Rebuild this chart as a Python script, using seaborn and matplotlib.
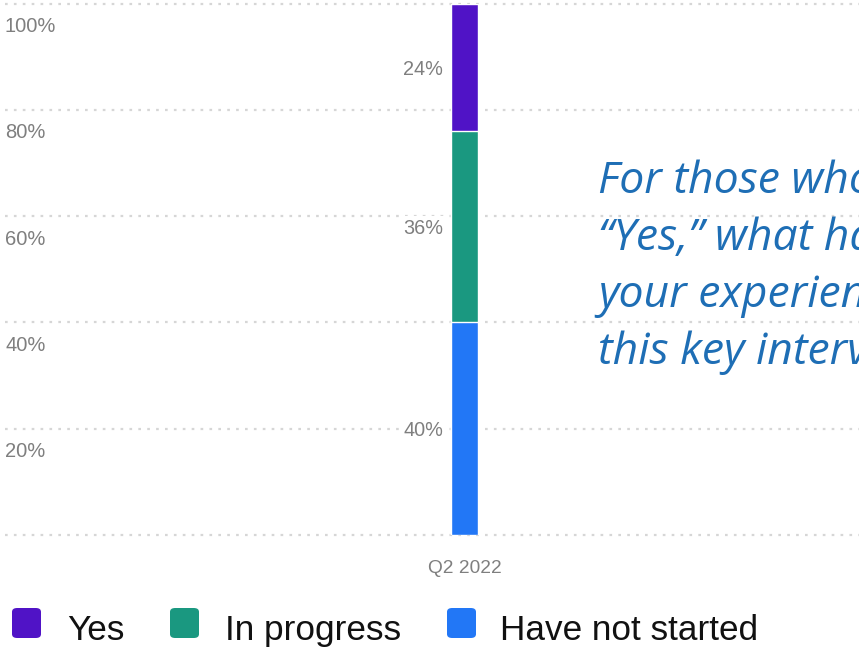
import matplotlib
matplotlib.use("Agg")
import matplotlib.pyplot as plt
from matplotlib.patches import FancyBboxPatch
from matplotlib.transforms import offset_copy
import seaborn as sns

# Survey responses for the quarter (percent of respondents)
period = ["Q2 2022"]
categories = ["Yes", "In progress", "Have not started"]
shares = [24, 36, 40]  # stacked top to bottom
colors = ["#5013C6", "#1A9880", "#2277F6"]
y_ticks = [20, 40, 60, 80, 100]
y_tick_labels = ["20%", "40%", "60%", "80%", "100%"]
question_lines = ["For those who answered", "\u201cYes,\u201d what has been",
                  "your experience with", "this key intervention?"]

sns.set_theme(style="white")
plt.rcParams["font.family"] = ["Liberation Sans", "DejaVu Sans"]

W, H = 859, 647
fig = plt.figure(figsize=(W / 100, H / 100), dpi=100)
ax = fig.add_axes([5 / W, (H - 535) / H, (W - 5) / W, 531.5 / H])

# stacked bar: draw cumulative totals from the top segment down
bottoms = []
running = 0
for s in reversed(shares):
    bottoms.insert(0, running)
    running += s
tops = [b + s for b, s in zip(bottoms, shares)]
order = sorted(range(len(shares)), key=lambda i: -tops[i])
for i in order:
    sns.barplot(x=period, y=[tops[i]], color=colors[i], width=0.8,
                saturation=1, edgecolor="white", linewidth=1, ax=ax, zorder=3)

px_per_unit = 27 / 0.8
ax.set_xlim(-(464.5 - 5) / px_per_unit, (859 - 464.5) / px_per_unit)
ax.set_ylim(0, 100)

# dotted grid
for v in [0] + y_ticks:
    ax.axhline(v, color="#D6D6D6", lw=1.6, linestyle=(0, (1.2, 2.8)),
               zorder=1, clip_on=False)

for sp in ax.spines.values():
    sp.set_visible(False)
ax.set_yticks([])
ax.set_ylabel("")
ax.set_xlabel("")
ax.tick_params(axis="x", length=0, pad=18, labelsize=13.8, labelcolor="#7F7F7F")

# y labels sit just below their gridline
ylab_tr = offset_copy(ax.get_yaxis_transform(), fig=fig, x=0, y=-21, units="dots")
for v, lab in zip(y_ticks, y_tick_labels):
    ax.text(0, v, lab, transform=ylab_tr, ha="left", va="center_baseline",
            fontsize=14.5, color="#7F7F7F")

# value labels to the left of each segment
for b, s in zip(bottoms, shares):
    ax.annotate(f"{s}%", xy=(-0.4, b + s / 2), xytext=(-8, 0),
                textcoords="offset pixels", ha="right", va="center_baseline",
                fontsize=14.3, color="#7F7F7F", zorder=4,
                bbox=dict(boxstyle="square,pad=0.15", fc="white", ec="none"))

# question text
for k, line in enumerate(question_lines):
    fig.text(598 / W, 1 - (182 + 57 * k) / H, line, ha="left", va="center",
             fontsize=32, style="italic", color="#1E6EB5",
             family=["Open Sans", "DejaVu Sans"])

# legend
legend_items = [(12, 67), (170, 225), (447, 500)]
for (sx, tx), lab, c in zip(legend_items, categories, colors):
    fig.patches.append(FancyBboxPatch(
        (sx / W, 1 - 638 / H), 29 / W, 30 / H,
        boxstyle="round,pad=0,rounding_size=0.006",
        transform=fig.transFigure, facecolor=c, edgecolor="none"))
    fig.text(tx / W, 1 - 627 / H, lab, ha="left", va="center_baseline",
             fontsize=25.3, color="#111111")

fig.savefig("out.png", dpi=100)
